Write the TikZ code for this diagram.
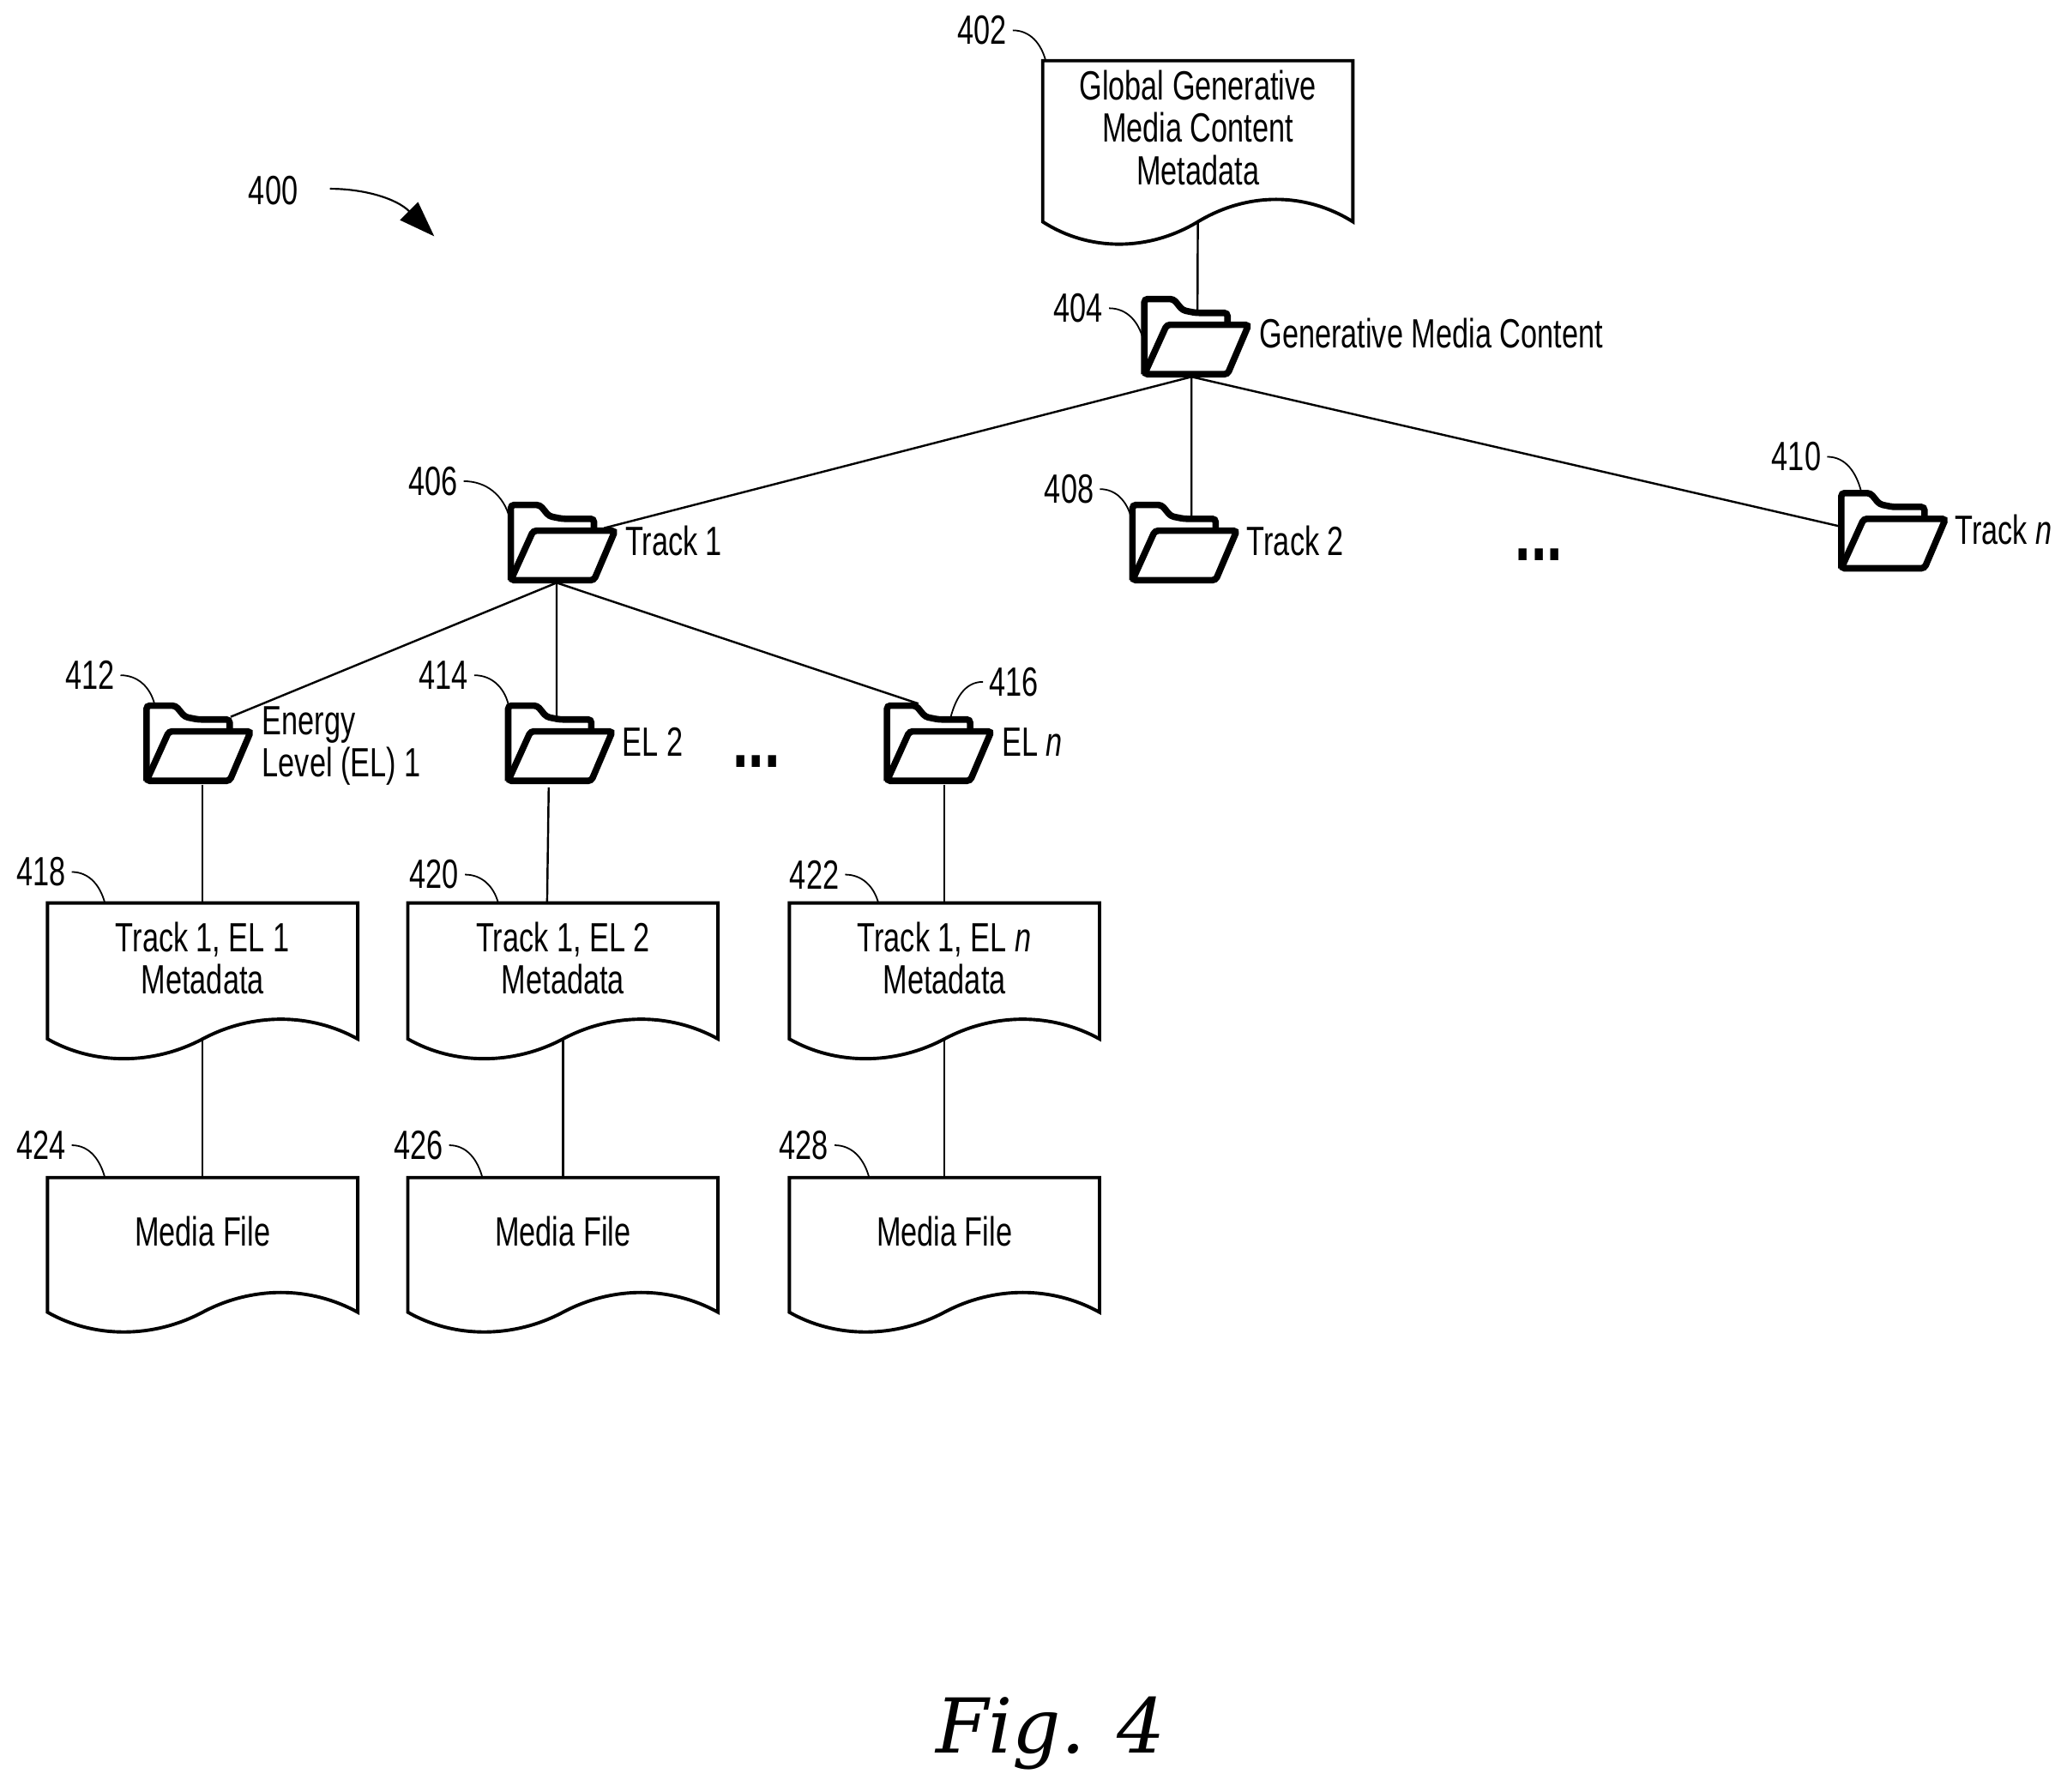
\documentclass[tikz,border=0pt]{standalone}
\usepackage{fontspec}
\setmainfont[FakeStretch=0.72]{Liberation Sans}
\newfontfamily\figfont{DejaVu Serif}
\usetikzlibrary{arrows.meta,positioning}
\tikzset{
	link/.style={line width=0.45pt},
	leader/.style={line width=0.33pt},
	docline/.style={line width=0.72pt},
	folderline/.style={line width=1.4pt,rounded corners=0.7pt,fill=white},
	txt/.style={inner sep=0pt,align=left,font=\fontsize{8.8}{9.2}\selectfont},
	docbody/.style={inner sep=0pt,anchor=north,align=center,minimum width=2.35cm,font=\fontsize{8.8}{9.1}\selectfont},
	folderbody/.style={inner sep=0pt,anchor=north west,minimum width=0.81cm,minimum height=0.6cm},
	dots/.style={inner sep=0pt,font=\fontsize{17}{17}\selectfont\bfseries},
}
% name, left, top, text box height, side length, wave depth, text
\newcommand{\docsheet}[7]{
	\begin{scope}[shift={(#2,#3)}]
		\node[docbody,minimum height=#4] (#1) at (117.5,0) {#7};
		\draw[docline] (0,0) -- (235,0) -- (235,#5)
			.. controls (199,#5-#6*1.33) and (155,#5-#6*1.33) .. (117.5,#5)
			.. controls (80,#5+#6*1.33) and (35,#5+#6*1.33) .. (0,#5) -- cycle;
		\coordinate (#1-w) at (117.5,#5);
	\end{scope}
}
% name, left, top
\newcommand{\folder}[3]{
	\node[folderbody] (#1) at (#2,#3) {};
	\begin{scope}[shift={(#2,#3)}]
		\draw[folderline] (1,58.5) -- (1,1.5) -- (23,1.5) -- (30,10) -- (40,12) -- (64,12) -- (64,21);
		\draw[folderline] (18,21) -- (80,21) -- (64,58.5) -- (1,58.5) -- cycle;
	\end{scope}
}

\begin{document}
\begin{tikzpicture}[x=0.01cm,y=-0.01cm]
	\useasboundingbox (0,0) rectangle (1566,1357.4);

	% documents
	\docsheet{d402}{790}{46}{1.00cm}{122}{17}{Global Generative\\Media Content\\Metadata}
	\docsheet{d418}{36}{684}{0.82cm}{103}{15}{Track 1, EL 1\\Metadata}
	\docsheet{d420}{309}{684}{0.82cm}{103}{15}{Track 1, EL 2\\Metadata}
	\docsheet{d422}{598}{684}{0.82cm}{103}{15}{Track 1, EL \textit{n}\\Metadata}
	\docsheet{d424}{36}{892}{0.80cm}{102}{15}{Media File}
	\docsheet{d426}{309}{892}{0.80cm}{102}{15}{Media File}
	\docsheet{d428}{598}{892}{0.80cm}{102}{15}{Media File}

	% folders
	\folder{f404}{866}{225}
	\folder{f406}{386}{381}
	\folder{f408}{857}{381}
	\folder{f410}{1394}{372}
	\folder{f412}{110}{533}
	\folder{f414}{384}{533}
	\folder{f416}{671}{533}

	% folder names
	\node[txt,anchor=west] (t404) at (953.5,252.5) {Generative Media Content};
	\node[txt,anchor=west] (t406) at (473,410) {Track 1};
	\node[txt,anchor=west] (t408) at (944,410) {Track 2};
	\node[txt,anchor=west] (t410) at (1480.5,401) {Track \textit{n}};
	\node[txt,anchor=west] (t412) at (198,565) {Energy\\Level (EL) 1};
	\node[txt,anchor=west] (t414) at (471,562) {EL 2};
	\node[txt,anchor=west] (t416) at (758.5,562) {EL \textit{n}};

	% tree lines
	\draw[link] (d402-w) -- ([yshift=-1.3mm]f404.north);
	\draw[link] ([xshift=-0.45mm,yshift=0.1mm]f404.south) -- ([xshift=3.05mm,yshift=-1.9mm]f406.north);
	\draw[link] ([xshift=-0.45mm,yshift=0.1mm]f404.south) -- ([xshift=0.45mm,yshift=-1.2mm]f408.north);
	\draw[link] ([xshift=-0.45mm,yshift=0.1mm]f404.south) -- ([yshift=0.4mm]f410.west);
	\draw[link] ([xshift=-0.55mm,yshift=0.1mm]f406.south) -- ([xshift=2.35mm,yshift=-1mm]f412.north);
	\draw[link] ([xshift=-0.55mm,yshift=0.1mm]f406.south) -- ([xshift=-0.35mm,yshift=-1.2mm]f414.north);
	\draw[link] ([xshift=-0.55mm,yshift=0.1mm]f406.south) -- ([xshift=-1.65mm]f416.north);
	\draw[link] (f412.south -| d418.north) -- (d418.north);
	\draw[link] ([xshift=-0.95mm,yshift=-0.2mm]f414.south) -- ([xshift=-1.2mm]d420.north);
	\draw[link] (f416.south -| d422.north) -- (d422.north);
	\draw[link] (d418-w) -- (d424.north);
	\draw[link] (d420-w) -- (d426.north);
	\draw[link] (d422-w) -- (d428.north);

	% reference numbers
	\node[txt] (n400) at (207,144.5) {400};
	\node[txt] (n402) at (744,23) {402};
	\node[txt] (n404) at (817,233.5) {404};
	\node[txt] (n406) at (328,364.5) {406};
	\node[txt] (n408) at (810,370.5) {408};
	\node[txt] (n410) at (1361,346) {410};
	\node[txt] (n412) at (68,511.5) {412};
	\node[txt] (n414) at (336,511.5) {414};
	\node[txt] (n416) at (768,516.5) {416};
	\node[txt] (n418) at (31,660.5) {418};
	\node[txt] (n420) at (329,662.5) {420};
	\node[txt] (n422) at (617,662.5) {422};
	\node[txt] (n424) at (31,867.5) {424};
	\node[txt] (n426) at (317,867.5) {426};
	\node[txt] (n428) at (609,867.5) {428};

	% leaders
	\draw[leader] ([xshift=0.4mm]n402.east) to[out=0,in=105] ([xshift=0.3mm]d402.north west);
	\draw[leader] ([xshift=0.4mm]n404.east) to[out=0,in=105] ([yshift=-0.1mm]f404.west);
	\draw[leader] ([xshift=0.4mm]n406.east) to[out=0,in=105] ([yshift=-1.1mm]f406.north west);
	\draw[leader] ([xshift=0.4mm]n408.east) to[out=0,in=105] ([yshift=-1.1mm]f408.north west);
	\draw[leader] ([xshift=0.4mm]n410.east) to[out=0,in=105] ([xshift=1.6mm]f410.north west);
	\draw[leader] ([xshift=0.4mm]n412.east) to[out=0,in=105] ([xshift=0.7mm]f412.north west);
	\draw[leader] ([xshift=0.4mm]n414.east) to[out=0,in=105] ([xshift=0.1mm]f414.north west);
	\draw[leader] ([xshift=-0.4mm]n416.west) to[out=180,in=75] ([xshift=4.9mm,yshift=-1.1mm]f416.north west);
	\draw[leader] ([xshift=0.4mm]n418.east) to[out=0,in=105] ([xshift=-7.4mm]d418.north);
	\draw[leader] ([xshift=0.4mm]n420.east) to[out=0,in=105] ([xshift=-4.9mm]d420.north);
	\draw[leader] ([xshift=0.4mm]n422.east) to[out=0,in=105] ([xshift=-5mm]d422.north);
	\draw[leader] ([xshift=0.4mm]n424.east) to[out=0,in=105] ([xshift=-7.4mm]d424.north);
	\draw[leader] ([xshift=0.4mm]n426.east) to[out=0,in=105] ([xshift=-6.1mm]d426.north);
	\draw[leader] ([xshift=0.4mm]n428.east) to[out=0,in=105] ([xshift=-5.7mm]d428.north);

	% reference arrow
	\coordinate (a400) at (250,143);
	\coordinate (b400) at (329,179);
	\draw[line width=0.4pt,-{Triangle[length=2.7mm,width=1.9mm]}] (a400) .. controls (275,143) and (300,150) .. (b400);

	% ellipses
	\node[dots] (e1) at (1166,420) {...};
	\node[dots] (e2) at (573,577) {...};

	\node[inner sep=0pt,font=\figfont\itshape\fontsize{16.3}{18}\selectfont] (fig) at (796,1313) {Fig. 4};
\end{tikzpicture}
\end{document}
